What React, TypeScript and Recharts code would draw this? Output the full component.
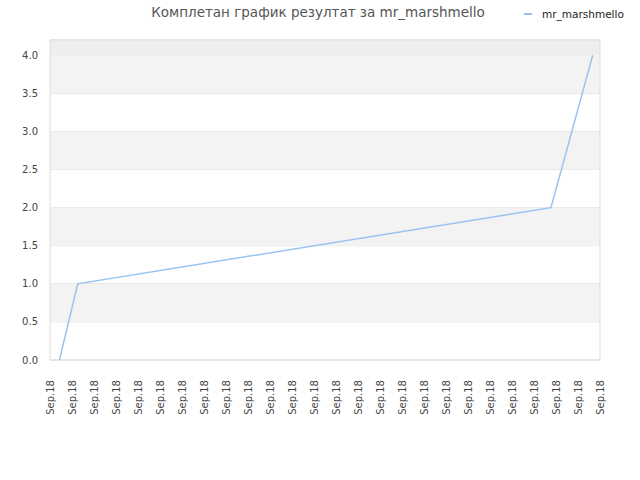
import React from "react"
import { LineChart, Line, XAxis, YAxis, CartesianGrid, ReferenceArea } from "recharts"

const seriesName = "mr_marshmello"
const title = "Комплетан график резултат за mr_marshmello"

// x position of each result, measured in tick steps from the left edge
const pointPos = [0.43, 1.26, 22.77, 24.67]
const pointScore = [0, 1, 2, 4]

const tickLabels = Array.from({ length: 26 }, () => "Sep.18")
const tickPos = tickLabels.map((_, i) => i)
const yTicks = [0, 0.5, 1, 1.5, 2, 2.5, 3, 3.5, 4]
const bands = [[0.5, 1], [1.5, 2], [2.5, 3], [3.5, 4]]

const data = pointPos.map((x, i) => ({ x, score: pointScore[i] }))

const FONT = "'DejaVu Sans', sans-serif"
const LINE = "#98c3f1"

function DateTick({ x, y, payload }: any) {
  return (
    <text
      x={x + 4}
      y={y + 12}
      transform={`rotate(-90, ${x + 4}, ${y + 12})`}
      textAnchor="end"
      fontSize={10}
      fontFamily={FONT}
      fill="#444"
    >
      {tickLabels[payload.value]}
    </text>
  )
}

export default function App() {
  return (
    <div style={{ position: "absolute", left: 0, top: 0, width: 640, height: 480, background: "#fff" }}>
      <div
        style={{
          position: "absolute", left: 0, width: 636, top: 4, textAlign: "center",
          fontFamily: FONT, fontSize: 13.5, color: "#555",
        }}
      >
        {title}
      </div>
      <div style={{ position: "absolute", left: 524, top: 8, display: "flex", alignItems: "center" }}>
        <div style={{ width: 8, height: 2, background: LINE, marginRight: 10 }} />
        <span style={{ fontFamily: FONT, fontSize: 10.5, color: "#222" }}>{seriesName}</span>
      </div>
      <LineChart width={640} height={480} data={data} margin={{ top: 40, right: 40, bottom: 0, left: 0 }}>
        <ReferenceArea x1={0} x2={25} y1={4} y2={4.2} fill="#eeeeee" fillOpacity={1} stroke="none" />
        {bands.map(([a, b]) => (
          <ReferenceArea key={a} x1={0} x2={25} y1={a} y2={b} fill="#f3f3f3" fillOpacity={1} stroke="none" />
        ))}
        <CartesianGrid vertical={false} stroke="#e0e0e0" />
        <ReferenceArea x1={0} x2={25} y1={0} y2={4.2} fill="none" stroke="#dddddd" strokeOpacity={1} />
        <XAxis
          dataKey="x"
          type="number"
          domain={[0, 25]}
          ticks={tickPos}
          interval={0}
          height={120}
          axisLine={false}
          tickLine={false}
          tick={<DateTick />}
        />
        <YAxis
          type="number"
          domain={[0, 4.2]}
          ticks={yTicks}
          width={50}
          axisLine={false}
          tickLine={false}
          tickMargin={6}
          tickFormatter={(v: number) => v.toFixed(1)}
          tick={{ fontSize: 10, fontFamily: FONT, fill: "#444" }}
        />
        <Line
          type="linear"
          dataKey="score"
          stroke={LINE}
          strokeWidth={1.5}
          dot={false}
          isAnimationActive={false}
        />
      </LineChart>
    </div>
  )
}
